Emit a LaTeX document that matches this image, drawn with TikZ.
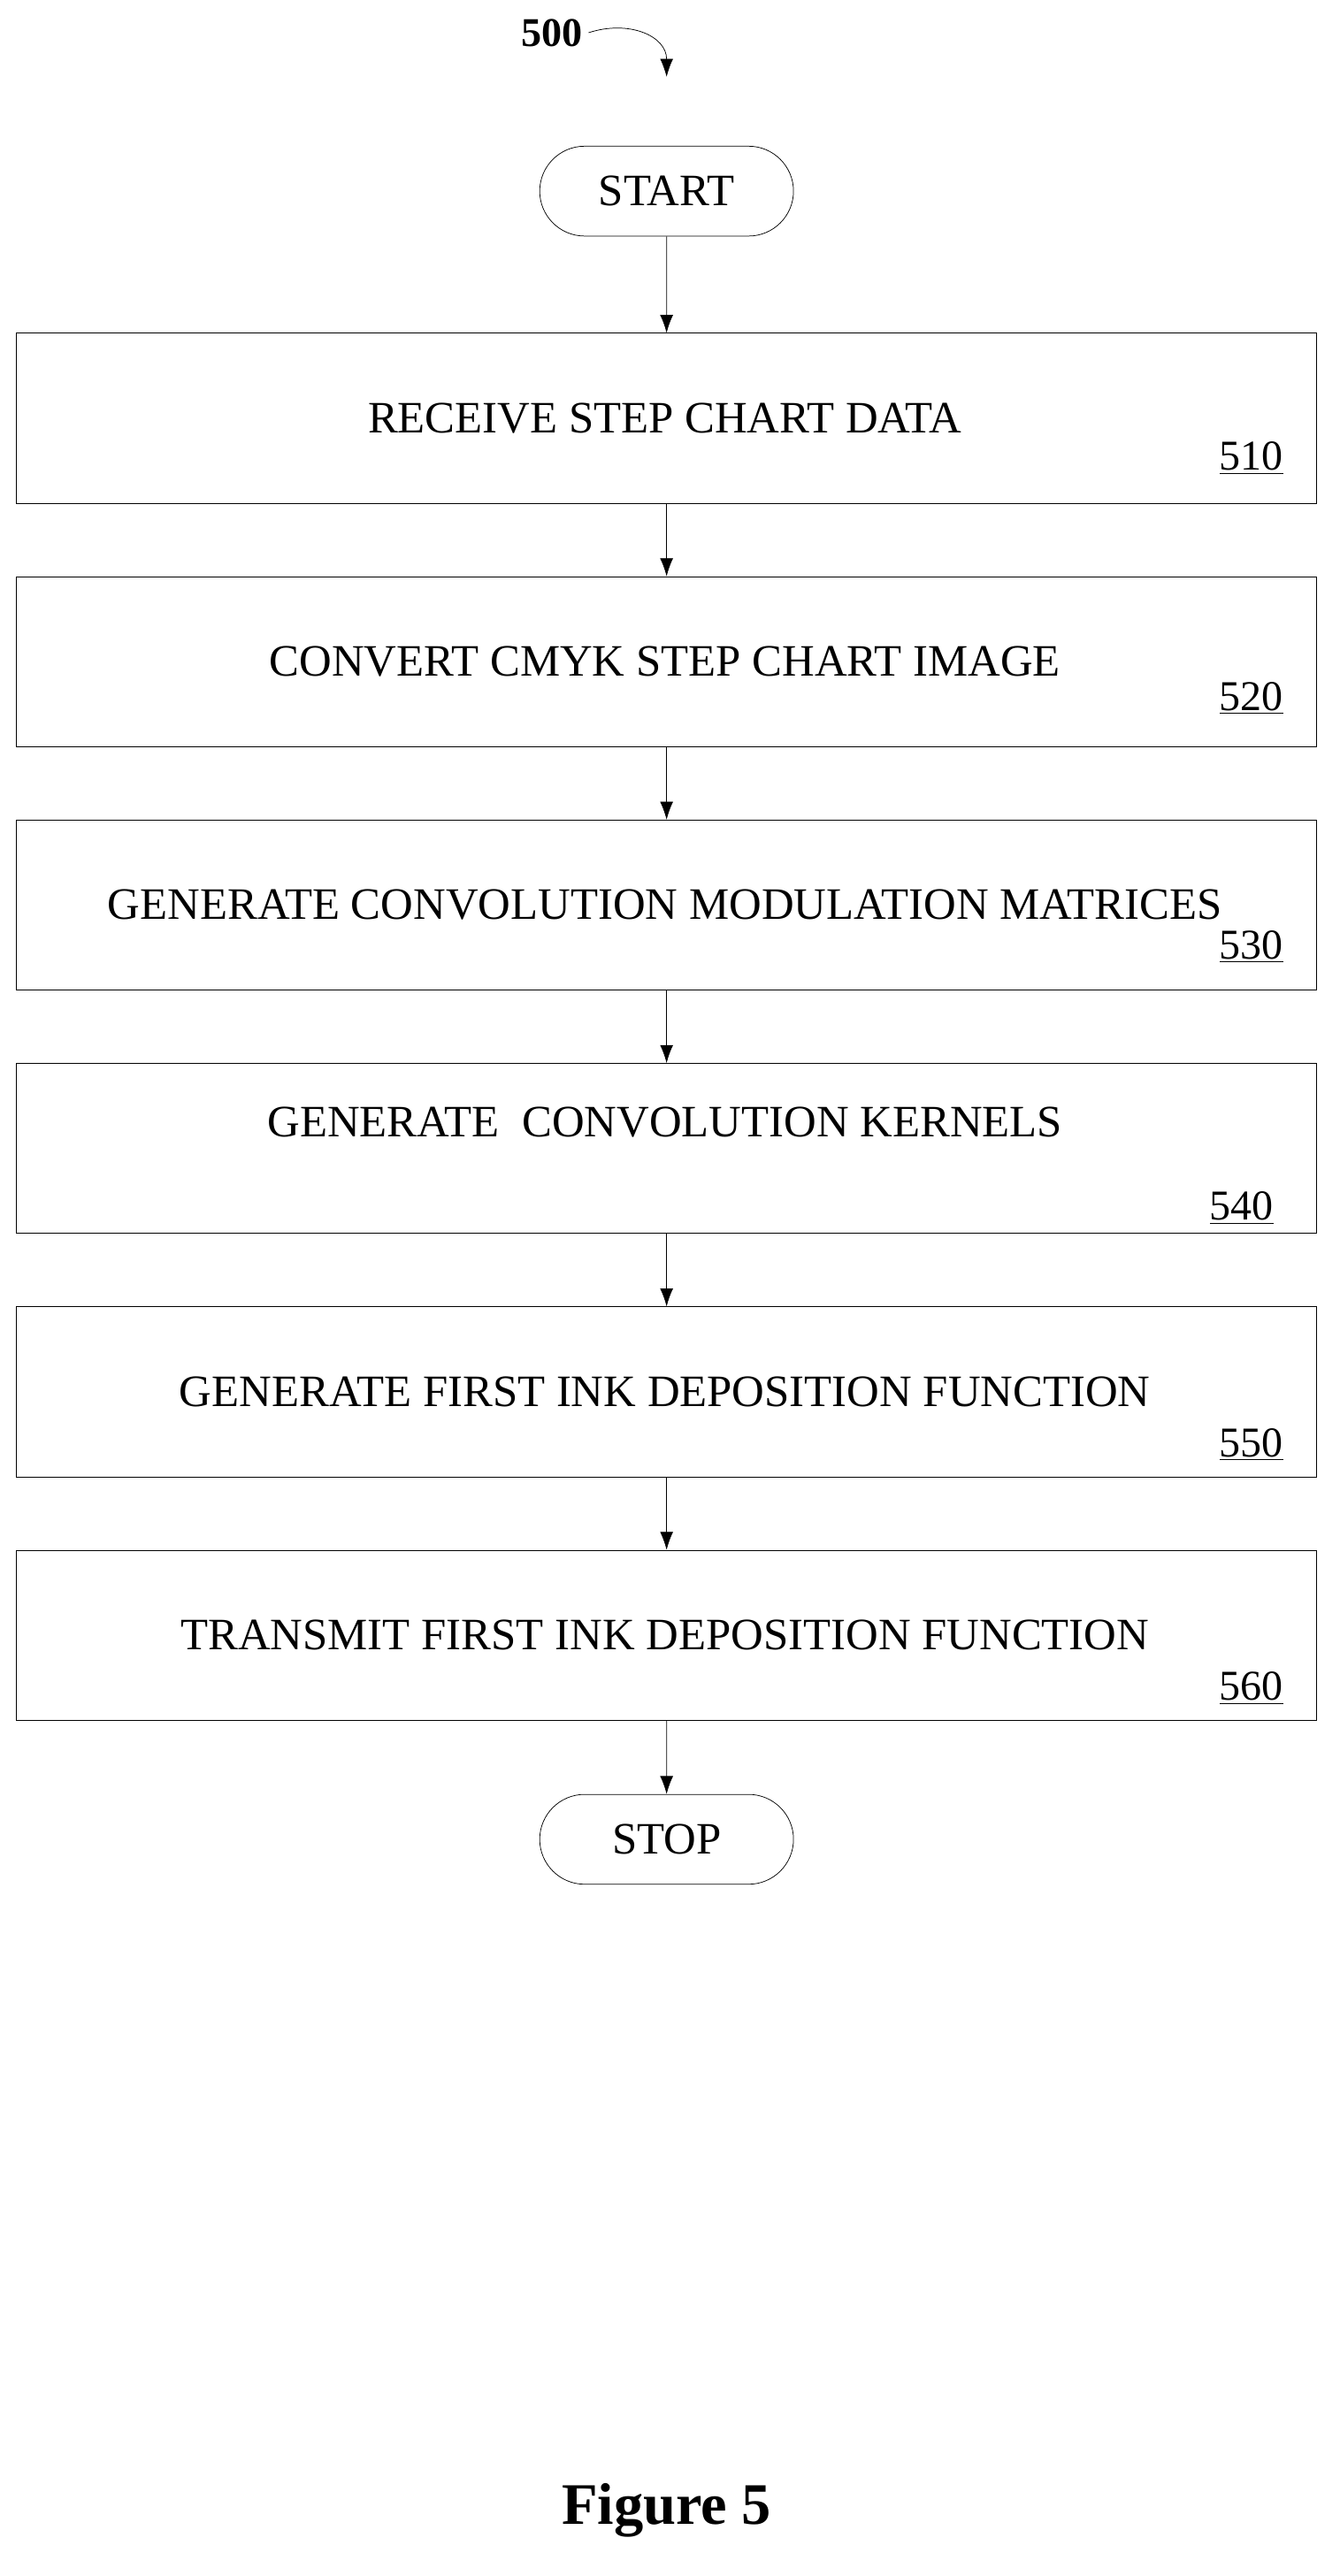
\documentclass[tikz,border=0pt]{standalone}
\usepackage{fontspec}
\setmainfont{Liberation Serif}
\usetikzlibrary{arrows.meta,positioning,shapes.misc}

\begin{document}
\begin{tikzpicture}[x=1pt,y=-1pt,thin,
    every node/.style={font=\fontsize{27.5}{32}\selectfont},
    stepbox/.style={draw,minimum width=796pt,minimum height=104pt,inner sep=0pt},
    term/.style={draw,rounded rectangle,minimum width=162pt,minimum height=55pt},
    ref/.style={anchor=base east,font=\fontsize{26}{30}\selectfont},
    flow/.style={-{Latex[length=11pt,width=8pt]}}]
        \useasboundingbox (0,0) rectangle (820,1577);
        \node[term] (start) at (408,117) {START};
        \node[stepbox] (s510) at (408,256) {};
        \node[stepbox] (s520) at (408,405) {};
        \node[stepbox] (s530) at (408,554) {};
        \node[stepbox] (s540) at (408,703) {};
        \node[stepbox] (s550) at (408,852) {};
        \node[stepbox] (s560) at (408,1001) {};
        \node[term] (stop) at (408,1126) {STOP};

        \node at (407,256) {RECEIVE STEP CHART DATA};
        \node at (407,405) {CONVERT CMYK STEP CHART IMAGE};
        \node at (407,554) {GENERATE CONVOLUTION MODULATION MATRICES};
        \node at (407,687) {GENERATE\ \ CONVOLUTION KERNELS};
        \node at (407,852) {GENERATE FIRST INK DEPOSITION FUNCTION};
        \node at (407,1001) {TRANSMIT FIRST INK DEPOSITION FUNCTION};

        \node[ref] at (789,288) {\underline{510}};
        \node[ref] at (789,435) {\underline{520}};
        \node[ref] at (789,587) {\underline{530}};
        \node[ref] at (783,747) {\underline{540}};
        \node[ref] at (789,892) {\underline{550}};
        \node[ref] at (789,1041) {\underline{560}};

        \draw[flow] (start) -- (s510);
        \draw[flow] (s510) -- (s520);
        \draw[flow] (s520) -- (s530);
        \draw[flow] (s530) -- (s540);
        \draw[flow] (s540) -- (s550);
        \draw[flow] (s550) -- (s560);
        \draw[flow] (s560) -- (stop);

        % figure number
        \node[font=\fontsize{25}{30}\selectfont\bfseries] (fig) at (338,20) {500};
        \coordinate (tip) at (408,47);
        \draw[flow] (fig.east) .. controls (385,12) and (408,22) .. (tip);
        \node[font=\fontsize{36}{42}\selectfont\bfseries] at (408,1537) {Figure 5};
\end{tikzpicture}
\end{document}
